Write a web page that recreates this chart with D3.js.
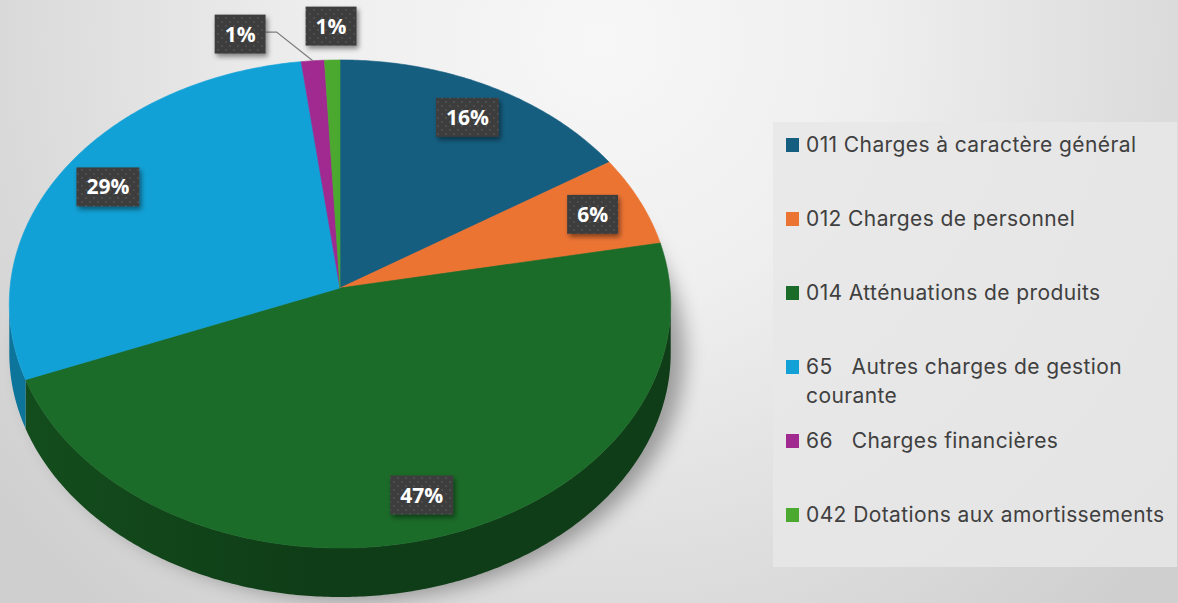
<!DOCTYPE html>
<html>
<head>
<meta charset="utf-8">
<script src="https://cdn.jsdelivr.net/npm/d3@7"></script>
<style>
  body { margin: 0; background: #e0e0e0; }
  svg { display: block; }
  .legend text { font-family: Inter, "Noto Sans", sans-serif; fill: #404040; white-space: pre; letter-spacing: 0.4px; }
  .lbl text { font-family: "Open Sans", Lato, sans-serif; font-weight: 700; fill: #fff; }
</style>
</head>
<body>
<svg id="chart" width="1178" height="603"></svg>
<script>
// données
const categories = [
    "011 Charges à caractère général",
    "012 Charges de personnel",
    "014 Atténuations de produits",
    "65   Autres charges de gestion courante",
    "66   Charges financières",
    "042 Dotations aux amortissements"
];
const shares = [16.0, 6.0, 47.0, 29.0, 1.2, 0.8];
const colors = ["#155e80", "#ec7433", "#1b6c28", "#12a1d6", "#a02a90", "#4ba92f"];

class Pie3D {
    constructor (element, configs) {
        this.svg = d3.select(element);
        this.defaultConfig = {
            cx: 340, cy: 288,
            rx: 330, ry: 243,
            persp: 0.0655,
            depth: 49,
            legend: {x: 773, y: 122, w: 404, h: 445, rowH: 74, fontSize: 21}
        };
        this.config = Object.assign({}, this.defaultConfig, configs);
        this.data = categories.map((c, i) => ({name: c, value: shares[i], color: colors[i]}));
        this.total = d3.sum(shares);
        this.arcs = d3.pie().sort(null).value(d => d.value)(this.data);
        this.defs();
        this.drawBackground();
        this.drawPie();
        this.drawLabels();
        this.drawLegend();
    }

    // projection perspective d'un point du disque
    project (a, r) {
        let c = this.config;
        let k = 1 + c.persp * r * Math.cos(a);
        return [c.cx + r * c.rx * Math.sin(a) / k, c.cy - r * c.ry * Math.cos(a) / k];
    }

    defs () {
        let defs = this.svg.append("defs");
        let bg = defs.append("radialGradient").attr("id", "bg")
            .attr("gradientUnits", "userSpaceOnUse")
            .attr("cx", 600).attr("cy", 40).attr("r", 760);
        bg.append("stop").attr("offset", 0).attr("stop-color", "#f7f7f7");
        bg.append("stop").attr("offset", 0.35).attr("stop-color", "#efefef");
        bg.append("stop").attr("offset", 1).attr("stop-color", "#cfcfcf");

        let sh = defs.append("filter").attr("id", "pieShadow")
            .attr("x", "-20%").attr("y", "-20%").attr("width", "140%").attr("height", "140%");
        sh.append("feGaussianBlur").attr("stdDeviation", 10);

        let ds = defs.append("filter").attr("id", "boxShadow")
            .attr("x", "-30%").attr("y", "-30%").attr("width", "160%").attr("height", "170%");
        ds.append("feDropShadow").attr("dx", 2).attr("dy", 3).attr("stdDeviation", 2.5)
            .attr("flood-color", "#000").attr("flood-opacity", 0.45);

        let pat = defs.append("pattern").attr("id", "dots")
            .attr("patternUnits", "userSpaceOnUse").attr("width", 8).attr("height", 8);
        pat.append("rect").attr("width", 8).attr("height", 8).attr("fill", "#3d3d3d");
        pat.append("circle").attr("cx", 2).attr("cy", 2).attr("r", 0.9).attr("fill", "#555");
        pat.append("circle").attr("cx", 6).attr("cy", 6).attr("r", 0.9).attr("fill", "#555");

        // dégradé des flancs
        this.data.forEach((d, i) => {
            let g = defs.append("linearGradient").attr("id", "side" + i)
                .attr("gradientUnits", "userSpaceOnUse")
                .attr("x1", this.config.cx - this.config.rx).attr("x2", this.config.cx + this.config.rx)
                .attr("y1", 0).attr("y2", 0);
            g.append("stop").attr("offset", 0).attr("stop-color", d3.color(d.color).darker(0.9));
            g.append("stop").attr("offset", 0.45).attr("stop-color", d3.color(d.color).darker(1.6));
            g.append("stop").attr("offset", 1).attr("stop-color", d3.color(d.color).darker(1.6));
        });
    }

    drawBackground () {
        let l = this.config.legend;
        this.svg.append("rect").attr("width", 1178).attr("height", 603).attr("fill", "url(#bg)");
        this.svg.append("rect")
            .attr("x", l.x).attr("y", l.y).attr("width", l.w).attr("height", l.h)
            .attr("fill", "#e8e8e8").attr("fill-opacity", 0.85);
    }

    arcPoints (a0, a1, r, step) {
        let pts = [];
        let n = Math.max(2, Math.ceil((a1 - a0) / step));
        for (let i = 0; i <= n; i++) {
            pts.push(this.project(a0 + (a1 - a0) * i / n, r));
        }
        return pts;
    }

    drawPie () {
        let c = this.config;
        let g = this.svg.append("g").attr("class", "pie");
        let line = d3.line();

        // ombre portée
        let rim = this.arcPoints(0, 2 * Math.PI, 1, 0.02);
        g.append("path")
            .attr("d", line(rim.map(p => [p[0] + 14, p[1] + c.depth + 2])) + "Z")
            .attr("fill", "#000").attr("opacity", 0.33)
            .attr("filter", "url(#pieShadow)");

        // flancs visibles (partie avant)
        let vis0 = Math.acos(-c.persp), vis1 = 2 * Math.PI - Math.acos(-c.persp);
        this.arcs.forEach((a, i) => {
            let s = Math.max(a.startAngle, vis0), e = Math.min(a.endAngle, vis1);
            if (e <= s) return;
            let top = this.arcPoints(s, e, 1, 0.01);
            let bottom = top.map(p => [p[0], p[1] + c.depth]).reverse();
            g.append("path")
                .attr("d", line(top.concat(bottom)) + "Z")
                .attr("fill", "url(#side" + i + ")");
        });

        // face supérieure
        this.arcs.forEach((a) => {
            let pts = [this.project(0, 0)].concat(this.arcPoints(a.startAngle, a.endAngle, 1, 0.01));
            g.append("path")
                .attr("d", line(pts) + "Z")
                .attr("fill", a.data.color)
                .attr("stroke", a.data.color).attr("stroke-width", 0.6);
        });
    }

    drawLabels () {
        let g = this.svg.append("g").attr("class", "lbl");
        let fs = 21, padX = 10, h = 39;
        let placed = [];
        let items = this.arcs.map((a, i) => {
            let pct = Math.round(a.data.value / this.total * 100) + "%";
            let mid = (a.startAngle + a.endAngle) / 2;
            let outside = a.data.value / this.total < 0.03;
            let p = this.project(mid, outside ? 1.16 : 0.84);
            return {i, pct, mid, outside, x: p[0], y: p[1]};
        });
        // les petites parts : placées à l'extérieur, décalées à gauche si chevauchement
        items.slice().reverse().forEach((it) => {
            let t = g.append("text").attr("font-size", fs).text(it.pct);
            it.w = t.node().getComputedTextLength() + 2 * padX;
            t.remove();
            if (it.outside) {
                placed.forEach((o) => {
                    if (Math.abs(o.x - it.x) < (o.w + it.w) / 2 + 4 && Math.abs(o.y - it.y) < h) {
                        it.x = o.x - (o.w + it.w) / 2 - 40;
                        it.y = o.y + 8;
                        it.leader = true;
                    }
                });
                placed.push(it);
            }
        });
        items.forEach((it) => {
            if (it.leader) {
                let edge = this.project(it.mid, 1.0);
                let x0 = it.x + it.w / 2;
                g.append("polyline")
                    .attr("points", [[x0, it.y - 2], [x0 + 11, it.y - 2], edge].map(p => p.join(",")).join(" "))
                    .attr("fill", "none").attr("stroke", "#7f7f7f").attr("stroke-width", 1.3);
            }
            g.append("rect")
                .attr("x", it.x - it.w / 2).attr("y", it.y - h / 2)
                .attr("width", it.w).attr("height", h)
                .attr("fill", "url(#dots)")
                .attr("filter", "url(#boxShadow)");
            g.append("text")
                .attr("x", it.x).attr("y", it.y)
                .attr("dy", "0.36em")
                .attr("text-anchor", "middle")
                .attr("font-size", fs)
                .text(it.pct);
        });
    }

    drawLegend () {
        let l = this.config.legend;
        let g = this.svg.append("g").attr("class", "legend");
        let textX = l.x + 33, maxW = l.x + l.w - 2 - textX;
        this.data.forEach((d, i) => {
            let y = l.y + 22 + i * l.rowH;
            let row = g.append("g");
            row.append("rect")
                .attr("x", l.x + 13).attr("y", y - 6).attr("width", 13).attr("height", 14)
                .attr("fill", d.color);
            // retour à la ligne simple
            let words = d.name.split(" "), lines = [], cur = "";
            let probe = row.append("text").attr("font-size", l.fontSize);
            words.forEach((w) => {
                let test = cur === "" ? w : cur + " " + w;
                probe.text(test);
                if (probe.node().getComputedTextLength() > maxW && cur !== "") {
                    lines.push(cur);
                    cur = w;
                } else {
                    cur = test;
                }
            });
            lines.push(cur);
            probe.remove();
            lines.forEach((ln, j) => {
                row.append("text")
                    .attr("x", textX).attr("y", y + j * 29)
                    .attr("dy", "0.36em")
                    .attr("font-size", l.fontSize)
                    .text(ln);
            });
        });
    }
}

new Pie3D("#chart");
</script>
</body>
</html>
